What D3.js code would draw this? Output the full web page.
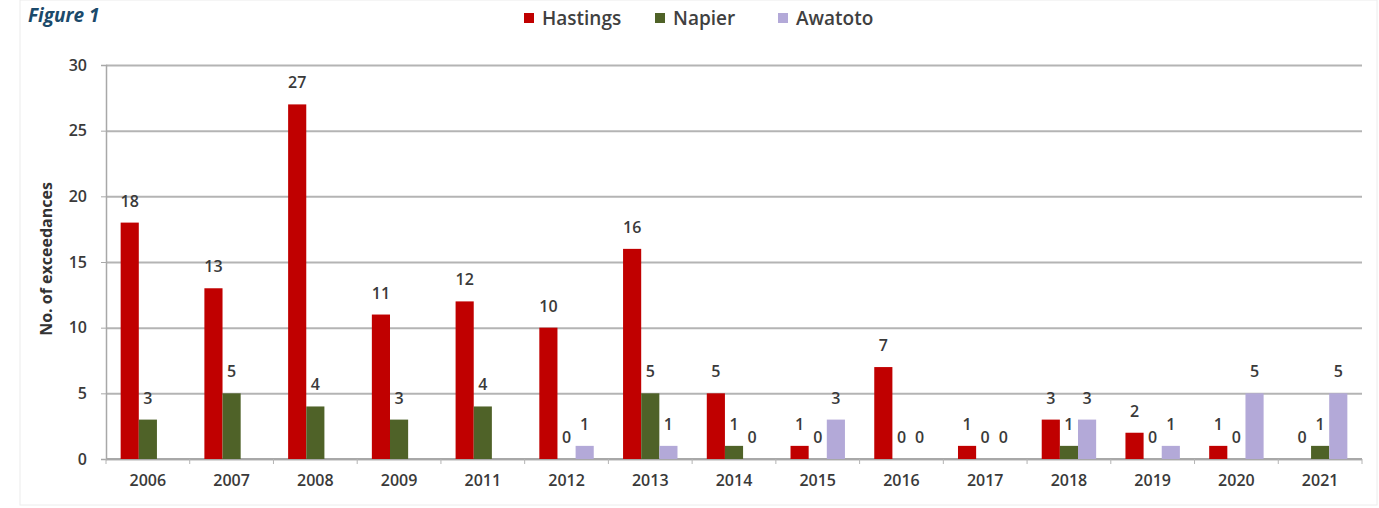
<!DOCTYPE html>
<html>
<head>
<meta charset="utf-8">
<script src="https://cdn.jsdelivr.net/npm/d3@7"></script>
<style>
  body { margin: 0; background: #fff; }
  text { font-family: "Open Sans", "DejaVu Sans", sans-serif; }
</style>
</head>
<body>
<svg width="1379" height="508"></svg>
<script>
const years = ["2006", "2007", "2008", "2009", "2011", "2012", "2013", "2014", "2015", "2016", "2017", "2018", "2019", "2020", "2021"];
const seriesNames = ["Hastings", "Napier", "Awatoto"];
const hastings = [18, 13, 27, 11, 12, 10, 16, 5, 1, 7, 1, 3, 2, 1, 0];
const napier = [3, 5, 4, 3, 4, 0, 5, 1, 0, 0, 0, 1, 0, 0, 1];
const awatoto = [null, null, null, null, null, 1, 1, 0, 3, 0, 0, 3, 1, 5, 5];
const yTicks = [0, 5, 10, 15, 20, 25, 30];
const colors = ["#c00000", "#4f6228", "#b3a9d8"];

const svg = d3.select("svg");
const width = +svg.attr("width");
const height = +svg.attr("height");
const margin = { top: 65, left: 106, right: 17, bottom: 49 };
const innerW = width - margin.left - margin.right;
const innerH = height - margin.top - margin.bottom;
const textColor = "#3a3a3a";

svg.append("rect")
  .attr("x", 20).attr("y", 0)
  .attr("width", width - 22).attr("height", 505)
  .attr("fill", "none").attr("stroke", "#ececec");

svg.append("text")
  .attr("x", 28).attr("y", 22)
  .attr("font-size", 19).attr("font-style", "italic").attr("font-weight", "bold")
  .attr("fill", "#1b4a6b")
  .text("Figure 1");

const series = [hastings, napier, awatoto];
const data = years.map((y, i) => ({
  year: y,
  values: series.map((s, k) => ({ key: seriesNames[k], value: s[i], k }))
}));

const x0 = d3.scaleBand().domain(years).range([0, innerW]).paddingInner(0.35).paddingOuter(0.175);
const x1 = d3.scaleBand().domain(seriesNames).range([0, x0.bandwidth()]);
const y = d3.scaleLinear().domain([0, 30]).range([innerH, 0]);

const g = svg.append("g").attr("transform", `translate(${margin.left},${margin.top})`);

// gridlines
g.append("g")
  .call(d3.axisLeft(y).tickValues(yTicks).tickSize(-innerW).tickFormat(""))
  .call(s => s.select(".domain").remove())
  .call(s => s.selectAll("line").attr("stroke", "#b4b4b4").attr("stroke-width", 2));

// y axis
g.append("g")
  .call(d3.axisLeft(y).tickValues(yTicks).tickSize(5).tickPadding(14))
  .call(s => s.select(".domain").attr("stroke", "#a8a8a8").attr("stroke-width", 1.5))
  .call(s => s.selectAll("line").attr("stroke", "#a8a8a8"))
  .call(s => s.selectAll("text").attr("font-size", 16).attr("font-weight", 600).attr("fill", textColor));

// x axis with ticks between categories
const xAxis = g.append("g").attr("transform", `translate(0,${innerH})`);
xAxis.append("line").attr("x1", 0).attr("x2", innerW)
  .attr("stroke", "#a8a8a8").attr("stroke-width", 2);
xAxis.selectAll(".sep")
  .data(d3.range(years.length + 1))
  .enter().append("line")
  .attr("x1", i => i * x0.step()).attr("x2", i => i * x0.step())
  .attr("y1", 0).attr("y2", 5)
  .attr("stroke", "#b4b4b4");
xAxis.selectAll(".lbl")
  .data(years)
  .enter().append("text")
  .attr("x", d => x0(d) + x0.bandwidth() / 2)
  .attr("y", 27)
  .attr("text-anchor", "middle")
  .attr("font-size", 16).attr("font-weight", 600).attr("fill", textColor)
  .text(d => d);

// bars
const groups = g.selectAll(".grp")
  .data(data)
  .enter().append("g")
  .attr("transform", d => `translate(${x0(d.year)},0)`);

const vals = groups.selectAll("g")
  .data(d => d.values.filter(v => v.value !== null))
  .enter().append("g");

vals.append("rect")
  .attr("x", d => x1(d.key))
  .attr("y", d => y(d.value))
  .attr("width", x1.bandwidth())
  .attr("height", d => innerH - y(d.value))
  .attr("fill", d => colors[d.k]);

vals.append("text")
  .attr("x", d => x1(d.key) + x1.bandwidth() / 2)
  .attr("y", d => y(d.value) - 16)
  .attr("text-anchor", "middle")
  .attr("font-size", 16).attr("font-weight", 600).attr("fill", textColor)
  .text(d => d.value);

// y axis title
svg.append("text")
  .attr("transform", `translate(52,${margin.top + innerH / 2 - 3}) rotate(-90)`)
  .attr("text-anchor", "middle")
  .attr("font-size", 16).attr("font-weight", "bold").attr("fill", "#333")
  .text("No. of exceedances");

// legend
const legendX = [524, 655, 778];
const legend = svg.append("g");
seriesNames.forEach((n, i) => {
  legend.append("rect")
    .attr("x", legendX[i]).attr("y", 13)
    .attr("width", 10).attr("height", 10)
    .attr("fill", colors[i]);
  legend.append("text")
    .attr("x", legendX[i] + 18).attr("y", 25)
    .attr("font-size", 19).attr("font-weight", 600).attr("fill", "#404040")
    .text(n);
});
</script>
</body>
</html>
